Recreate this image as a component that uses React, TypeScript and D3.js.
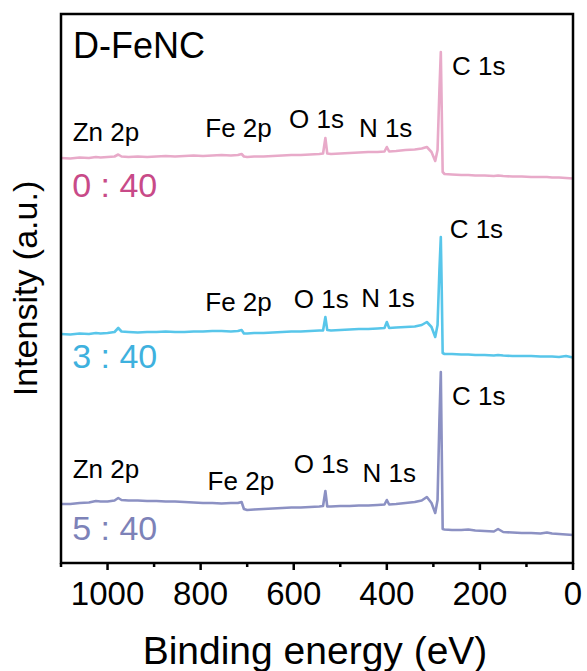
import * as d3 from 'd3';

// Binding energy grid (eV), shared by the three survey spectra
const energy = [1100, 1080, 1060, 1040, 1025, 1015, 1000, 985, 977, 970, 955, 935, 915, 895, 875, 855, 835, 815, 795, 775,
  755, 735, 720, 712, 707, 700, 685, 665, 645, 625, 605, 585, 565, 545, 537, 532, 528, 520, 500, 480,
  460, 440, 420, 405, 400, 395, 380, 360, 340, 325, 314, 304, 296, 291, 287, 284, 282, 280, 276, 260,
  240, 225, 210, 190, 170, 161, 150, 130, 110, 90, 70, 56, 45, 30, 15, 0];

// Intensities (a.u., already stacked with offsets)
const ratio0 = [405, 404.5, 405.5, 405, 406, 405.5, 406, 406.5, 408.5, 406.5, 406, 406.5, 406, 406.5, 407, 406.5, 407, 407.5, 407, 407.5,
  408, 407.5, 408, 409, 406.5, 406, 406.5, 406.5, 407, 407.5, 408, 408, 408.5, 409, 409.5, 425, 409.5, 409, 409.5, 410,
  410.5, 411, 411, 411.5, 416, 411.5, 412, 413, 413.5, 414.5, 416, 411, 402, 413, 473, 511, 453, 391, 389, 388.5,
  388, 388, 387.5, 387.5, 387, 387.5, 387, 386.5, 386.5, 386, 386, 386, 385.5, 385.5, 385, 384.5];

const ratio3 = [229, 228.5, 229.5, 229, 230, 229.5, 230, 231, 235, 231.5, 231, 230.5, 231, 231, 231.5, 231, 231, 231.5, 231.5, 232,
  232, 231.5, 232, 233, 229.5, 229.5, 230, 230, 230.5, 231, 231.5, 231.5, 232, 232.5, 232.5, 246, 233, 232.5, 233, 233.5,
  234, 234, 234.5, 235, 241, 235, 235.5, 236, 236.5, 238, 241, 236, 226, 238, 293, 326, 273, 210, 209, 209,
  208.5, 208.5, 208, 208, 207.5, 208, 207.5, 207, 207, 207, 206.5, 206.5, 206.5, 206, 207, 205.5];

const ratio5 = [59, 59, 60, 60.5, 62, 61.5, 61.5, 62.5, 65, 63, 62.5, 62.5, 62, 62, 61.5, 61.5, 61, 60.5, 60, 60,
  59.5, 60, 60, 61, 54, 53, 53.5, 54, 54.5, 55, 55.5, 55.5, 56, 56.5, 57, 72, 56.5, 56.5, 57, 57,
  57.5, 57.5, 58, 58.5, 63, 58.5, 59, 60, 61, 62.5, 66, 60, 50, 63, 143, 191, 113, 34, 33.5, 33,
  33, 33.5, 32.5, 32, 31.5, 34, 31, 30.5, 30, 30, 29.5, 30.5, 29.5, 29, 28.5, 28];

const seriesNames = ['0 : 40', '3 : 40', '5 : 40'];
const lineColors = ['#e8aac9', '#58c6ea', '#8c91c3'];
const textColors = ['#c84a88', '#3eb1de', '#7d82b8'];

// peak labels: [label, energy anchor, intensity anchor] per series
const peakLabels0: [string, number, number][] = [['Zn 2p', 1075, 422], ['Fe 2p', 790, 426], ['O 1s', 610, 435], ['N 1s', 460, 426], ['C 1s', 260, 488]];
const peakLabels3: [string, number, number][] = [['Fe 2p', 790, 252], ['O 1s', 600, 255], ['N 1s', 455, 256], ['C 1s', 265, 325]];
const peakLabels5: [string, number, number][] = [['Zn 2p', 1075, 85], ['Fe 2p', 785, 73], ['O 1s', 600, 90], ['N 1s', 452, 81], ['C 1s', 260, 158]];
const ratioAnchor = [366, 195, 23];

const majorTicks = [1000, 800, 600, 400, 200, 0];
const minorTicks = [1100, 900, 700, 500, 300, 100];

const font = 'Liberation Sans, Arial, sans-serif';

export default function App() {
  const width = 587;
  const height = 671;
  const left = 61, right = 573, top = 14, bottom = 563;

  const x = d3.scaleLinear().domain([1100, 0]).range([left, right]);
  const y = d3.scaleLinear().domain([0, 549]).range([bottom, top]);

  const allSeries = [ratio0, ratio3, ratio5];
  const allLabels = [peakLabels0, peakLabels3, peakLabels5];

  const line = d3.line<number>()
    .x((d, i) => x(energy[i]))
    .y(d => y(d));

  return (
    <svg width={width} height={height} style={{ position: 'absolute', left: 0, top: 0, background: '#fff' }} fontFamily={font}>
      <rect x={0} y={0} width={width} height={height} fill='#fff' />
      {allSeries.map((s, i) => (
        <path key={i} d={line(s) as string} fill='none' stroke={lineColors[i]} strokeWidth={2.6} strokeLinejoin='round' />
      ))}
      {allLabels.map((labels, i) => labels.map(([t, e, v]) => (
        <text key={i + t} x={x(e)} y={y(v)} fontSize={26} fill='#000'>{t}</text>
      )))}
      {seriesNames.map((n, i) => (
        <text key={n} x={x(1076)} y={y(ratioAnchor[i])} fontSize={34} fill={textColors[i]}>{n}</text>
      ))}
      <text x={x(1074)} y={y(505)} fontSize={36} fill='#000'>D-FeNC</text>

      {/* frame */}
      <rect x={left} y={top} width={right - left} height={bottom - top} fill='none' stroke='#000' strokeWidth={2.5} />
      {majorTicks.map(t => (
        <line key={t} x1={x(t)} x2={x(t)} y1={bottom} y2={bottom + 7} stroke='#000' strokeWidth={2.5} />
      ))}
      {minorTicks.map(t => (
        <line key={t} x1={x(t)} x2={x(t)} y1={bottom} y2={bottom + 4} stroke='#000' strokeWidth={2.5} />
      ))}
      {majorTicks.map(t => (
        <text key={t} x={x(t)} y={605} fontSize={33} textAnchor='middle' fill='#000'>{t}</text>
      ))}
      <text x={315} y={664} fontSize={39} textAnchor='middle' fill='#000'>Binding energy (eV)</text>
      <text transform={`translate(37,${(top + bottom) / 2}) rotate(-90)`} fontSize={34} textAnchor='middle' fill='#000'>Intensity (a.u.)</text>
    </svg>
  );
}
